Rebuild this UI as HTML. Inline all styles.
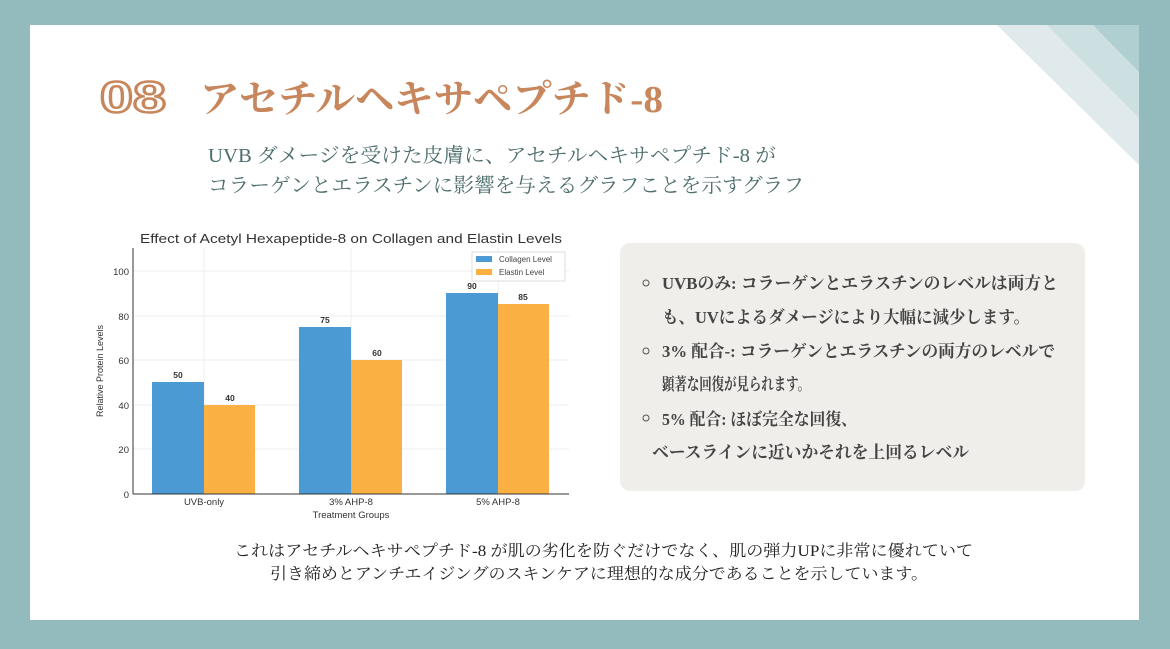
<!DOCTYPE html>
<html><head><meta charset="utf-8"><style>
html,body{margin:0;padding:0;background:#93bbbe;}
svg{display:block}
.s{font-family:"Liberation Serif","Noto Serif CJK JP",serif;}
.a{font-family:"Liberation Sans","DejaVu Sans",sans-serif;}
</style></head><body>
<svg width="1170" height="649" viewBox="0 0 1170 649" xmlns="http://www.w3.org/2000/svg">
<rect width="1170" height="649" fill="#93bbbe"/>
<rect x="30" y="25" width="1109" height="595" fill="#ffffff"/>
<polygon points="997,25 1139,25 1139,165" fill="#e0e9eb"/>
<polygon points="1047,25 1139,25 1139,118" fill="#cde0e1"/>
<polygon points="1093,25 1139,25 1139,72" fill="#b0cfd0"/>

<text x="100" y="112" font-size="44" font-weight="bold" fill="#fff" stroke="#c8865c" stroke-width="2.5" class="a" textLength="66" lengthAdjust="spacingAndGlyphs">08</text>
<text x="200" y="112" font-size="38" font-weight="bold" fill="#c8865c" class="s" textLength="463" lengthAdjust="spacingAndGlyphs">アセチルヘキサペプチド-8</text>

<g class="s" fill="#4f6e6e" font-size="20">
<text x="208" y="162" textLength="568" lengthAdjust="spacingAndGlyphs">UVB ダメージを受けた皮膚に、アセチルヘキサペプチド-8 が</text>
<text x="208" y="192" textLength="596" lengthAdjust="spacingAndGlyphs">コラーゲンとエラスチンに影響を与えるグラフことを示すグラフ</text>
</g>

<!-- chart -->
<text x="351" y="243" text-anchor="middle" font-size="13" fill="#333" class="a" textLength="422" lengthAdjust="spacingAndGlyphs">Effect of Acetyl Hexapeptide-8 on Collagen and Elastin Levels</text>
<g stroke="#eeeeee" stroke-width="1">
<line x1="133" y1="271" x2="569" y2="271"/><line x1="133" y1="316" x2="569" y2="316"/>
<line x1="133" y1="360" x2="569" y2="360"/><line x1="133" y1="405" x2="569" y2="405"/>
<line x1="133" y1="449" x2="569" y2="449"/>
<line x1="204" y1="248" x2="204" y2="494"/><line x1="351" y1="248" x2="351" y2="494"/><line x1="498" y1="248" x2="498" y2="494"/>
</g>
<g fill="#4b9ad4">
<rect x="152" y="382" width="52" height="112"/>
<rect x="299" y="327" width="52" height="167"/>
<rect x="446" y="293" width="52" height="201"/>
</g>
<g fill="#fbb044">
<rect x="204" y="405" width="51" height="89"/>
<rect x="351" y="360" width="51" height="134"/>
<rect x="498" y="304" width="51" height="190"/>
</g>
<g stroke="#333" stroke-width="1">
<line x1="133" y1="248" x2="133" y2="494"/><line x1="133" y1="494" x2="569" y2="494"/>
</g>
<g class="a" font-size="9.5" fill="#333" text-anchor="end">
<text x="129" y="498">0</text><text x="129" y="453">20</text><text x="129" y="409">40</text>
<text x="129" y="364">60</text><text x="129" y="320">80</text><text x="129" y="275">100</text>
</g>
<g class="a" font-size="8.5" font-weight="bold" fill="#333" text-anchor="middle">
<text x="178" y="378">50</text><text x="230" y="401">40</text>
<text x="325" y="323">75</text><text x="377" y="356">60</text>
<text x="472" y="289">90</text><text x="523" y="300">85</text>
</g>
<g class="a" font-size="9.5" fill="#333" text-anchor="middle">
<text x="204" y="505">UVB-only</text><text x="351" y="505">3% AHP-8</text><text x="498" y="505">5% AHP-8</text>
<text x="351" y="518">Treatment Groups</text>
<text transform="translate(103,371) rotate(-90)" font-size="9">Relative Protein Levels</text>
</g>
<rect x="472" y="252" width="93" height="29" fill="#fff" stroke="#ddd"/>
<rect x="476" y="256" width="16" height="6" fill="#4b9ad4"/>
<rect x="476" y="269" width="16" height="6" fill="#fbb044"/>
<g class="a" font-size="8" fill="#444"><text x="499" y="262">Collagen Level</text><text x="499" y="275">Elastin Level</text></g>

<!-- box -->
<rect x="620" y="243" width="465" height="248" rx="10" fill="#efeeeb"/>
<g fill="none" stroke="#555" stroke-width="1"><circle cx="646" cy="283" r="3"/><circle cx="646" cy="351" r="3"/><circle cx="646" cy="418" r="3"/></g>
<g class="s" fill="#444" font-size="17" font-weight="bold">
<text x="662" y="289" textLength="396" lengthAdjust="spacingAndGlyphs">UVBのみ: コラーゲンとエラスチンのレベルは両方と</text>
<text x="662" y="323" textLength="368" lengthAdjust="spacingAndGlyphs">も、UVによるダメージにより大幅に減少します。</text>
<text x="662" y="357" textLength="393" lengthAdjust="spacingAndGlyphs">3% 配合-: コラーゲンとエラスチンの両方のレベルで</text>
<text x="662" y="390" textLength="148" lengthAdjust="spacingAndGlyphs">顕著な回復が見られます。</text>
<text x="662" y="425" textLength="195" lengthAdjust="spacingAndGlyphs">5% 配合: ほぼ完全な回復、</text>
<text x="652" y="458" textLength="317" lengthAdjust="spacingAndGlyphs">ベースラインに近いかそれを上回るレベル</text>
</g>

<g class="s" fill="#222" font-size="16">
<text x="234" y="556" textLength="739" lengthAdjust="spacingAndGlyphs">これはアセチルヘキサペプチド-8 が肌の劣化を防ぐだけでなく、肌の弾力UPに非常に優れていて</text>
<text x="270" y="579" textLength="658" lengthAdjust="spacingAndGlyphs">引き締めとアンチエイジングのスキンケアに理想的な成分であることを示しています。</text>
</g>
</svg>
</body></html>
